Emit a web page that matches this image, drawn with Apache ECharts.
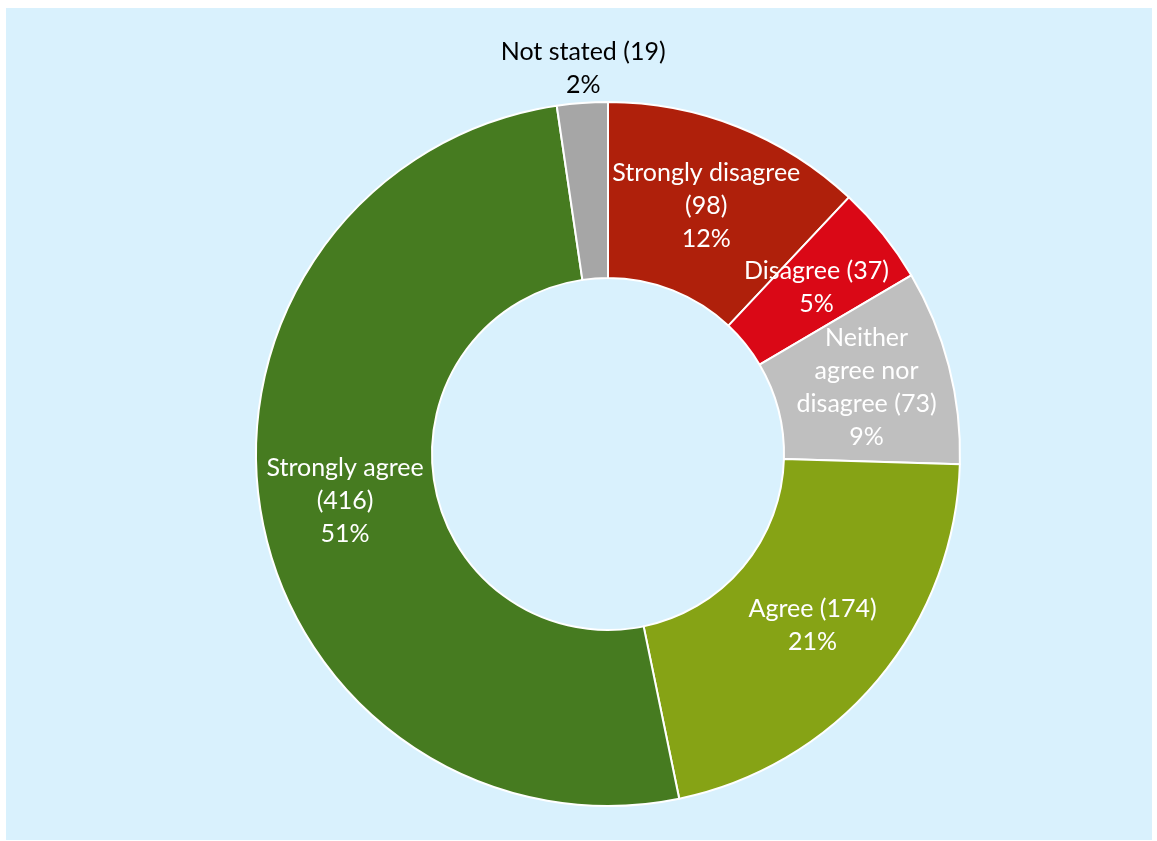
<!DOCTYPE html>
<html>
<head>
<meta charset="utf-8">
<script src="https://cdn.jsdelivr.net/npm/echarts@6/dist/echarts.min.js"></script>
<style>
  html, body { margin: 0; padding: 0; background: #ffffff; }
  #chart { width: 1157px; height: 841px; }
</style>
</head>
<body>
<div id="chart"></div>
<script>
// Survey responses, clockwise from the top
const categories = ['Strongly disagree', 'Disagree', 'Neither agree nor disagree', 'Agree', 'Strongly agree', 'Not stated'];
const counts = [98, 37, 73, 174, 416, 19];
const percentLabels = ['12%', '5%', '9%', '21%', '51%', '2%'];
// How each category name wraps inside its slice
const nameLines = [
  ['Strongly disagree', '(98)'],
  ['Disagree (37)'],
  ['Neither', 'agree nor', 'disagree (73)'],
  ['Agree (174)'],
  ['Strongly agree', '(416)'],
  ['Not stated (19)']
];
const colors = ['#AF200B', '#DA0816', '#BFBFBF', '#86A315', '#467B20', '#A6A6A6'];

const FONT = 'Lato, "Open Sans", sans-serif';

const data = categories.map((name, i) => ({
  name: name,
  value: counts[i],
  itemStyle: { color: colors[i] },
  label: i === 5
    ? { position: 'outside', color: '#000000', align: 'center' }
    : { position: 'inside', color: '#ffffff' },
  labelLine: { show: false, length: 2, length2: 0 }
}));

const chart = echarts.init(document.getElementById('chart'));
chart.setOption({
  animation: false,
  backgroundColor: '#ffffff',
  graphic: [{
    type: 'rect',
    z: -10,
    shape: { x: 6, y: 8, width: 1146, height: 832 },
    style: { fill: '#D9F1FD' }
  }],
  series: [{
    type: 'pie',
    center: [608, 454],
    radius: [176, 352],
    startAngle: 90,
    clockwise: true,
    avoidLabelOverlap: false,
    itemStyle: { borderColor: '#ffffff', borderWidth: 2 },
    label: {
      fontFamily: FONT,
      fontSize: 25,
      lineHeight: 33,
      align: 'center',
      formatter: (p) => nameLines[p.dataIndex].concat(percentLabels[p.dataIndex]).join('\n')
    },
    labelLayout: (params) => {
      if (params.dataIndex === 5) {
        return { align: 'center', verticalAlign: 'bottom', dx: 6 };
      }
      return {};
    },
    emphasis: { disabled: true },
    data: data
  }]
});
</script>
</body>
</html>
